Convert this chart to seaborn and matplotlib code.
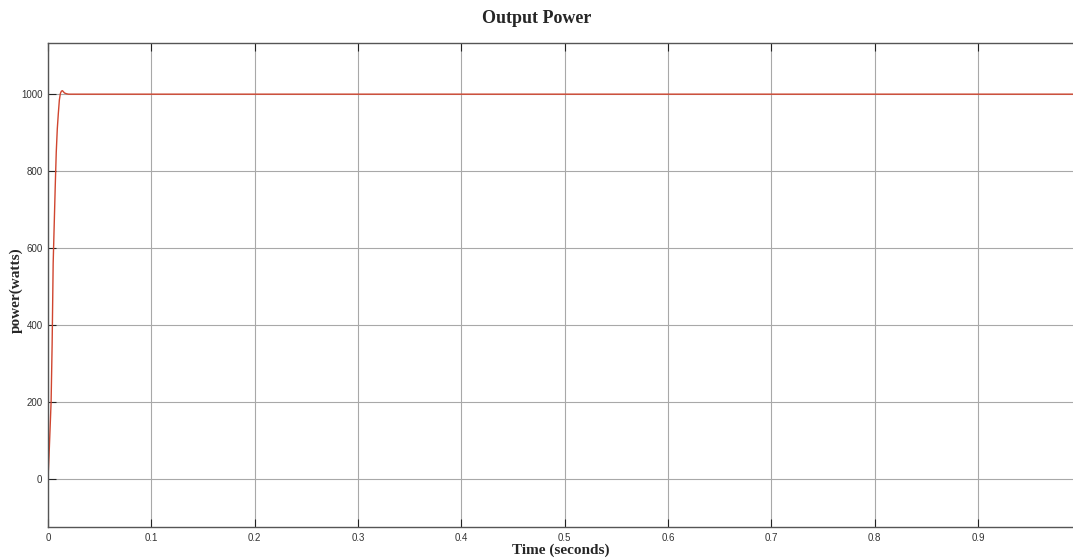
import matplotlib
matplotlib.use("Agg")
import matplotlib.pyplot as plt
import seaborn as sns
import pandas as pd

# Data
time_s = [0.0, 0.001, 0.002, 0.003, 0.004, 0.005, 0.006, 0.007, 0.008, 0.009,
          0.010, 0.011, 0.012, 0.013, 0.014, 0.015, 0.016, 0.018, 0.020, 0.992]
power_w = [0, 60, 130, 200, 350, 560, 660, 760, 850, 910,
           950, 985, 1002, 1008, 1009, 1006, 1003, 1001, 1000, 1000]
x_ticks = [0, 0.1, 0.2, 0.3, 0.4, 0.5, 0.6, 0.7, 0.8, 0.9]
x_tick_labels = ["0", "0.1", "0.2", "0.3", "0.4", "0.5", "0.6", "0.7", "0.8", "0.9"]
y_ticks = [0, 200, 400, 600, 800, 1000]

df = pd.DataFrame({"time": time_s, "power": power_w})

sns.set_theme(style="white")
plt.rcParams["font.family"] = ["Liberation Sans", "DejaVu Sans"]

fig = plt.figure(figsize=(10.73, 5.6), dpi=100)
ax = fig.add_axes([48 / 1073, 1 - 527 / 560, 1 - 48 / 1073, (527 - 43) / 560])

sns.lineplot(data=df, x="time", y="power", ax=ax, color="#d0452f", linewidth=1.0)

ax.set_xlim(0, 0.992)
ax.set_ylim(-125, 1133)
ax.set_xticks(x_ticks)
ax.set_xticklabels(x_tick_labels)
ax.set_yticks(y_ticks)
ax.grid(True, color="#a8a8a8", linewidth=0.8, linestyle="-")
ax.set_axisbelow(True)

for side in ["left", "bottom", "top"]:
    ax.spines[side].set_color("#555555")
    ax.spines[side].set_linewidth(1.0)
ax.spines["right"].set_visible(False)

ax.tick_params(axis="both", which="major", direction="in", length=6, width=0.8,
               color="#222222", labelsize=7, labelcolor="#333333",
               top=True, right=False, bottom=True, left=True, pad=4)

serif = ["Liberation Serif", "DejaVu Serif"]
ax.set_xlabel("Time (seconds)", family=serif, fontweight="bold", fontsize=11)
ax.set_ylabel("power(watts)", family=serif, fontweight="bold", fontsize=11)
ax.xaxis.set_label_coords(0.5, -0.034)
ax.yaxis.set_label_coords(-0.025, 0.49)
fig.suptitle("Output Power", family=serif, fontweight="bold", fontsize=13, y=0.982)

fig.savefig("out.png", dpi=100)
